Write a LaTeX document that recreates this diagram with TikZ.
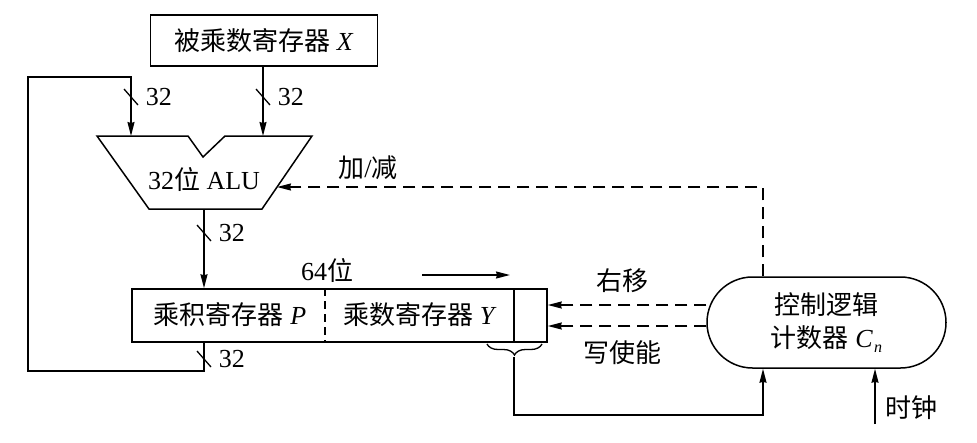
\documentclass[tikz,border=0pt]{standalone}
\usepackage{fontspec}
\setmainfont{Liberation Serif}
\newfontfamily\cjk{Noto Sans CJK SC}
\usepackage{tikz}
\usetikzlibrary{arrows.meta, positioning, shapes.misc, decorations.pathreplacing}
\newcommand{\zh}[1]{{\cjk #1}}
\tikzset{
	x=1pt, y=-1pt,
	>={Stealth[length=14pt, width=7pt, inset=1pt]},
	every node/.style={font=\fontsize{26}{33}\selectfont, inner sep=0pt},
	box/.style={draw, minimum height=51pt},
	sig/.style={dash pattern=on 12pt off 7pt},
	cut/.style={dash pattern=on 8pt off 5pt},
	ctl/.style={draw, rounded rectangle, align=center, minimum width=239pt, minimum height=91pt}}

\begin{document}
\begin{tikzpicture}[line width=1.5pt]
		\useasboundingbox (0,0) rectangle (977,442);

		% registers and control
		\node[box, minimum width=227pt] (X) at (264,40.5) {\zh{被乘数寄存器} \textit{X}};
		\node[box, minimum width=415pt, minimum height=53pt] (reg) at (339.5,315.5) {};
		\node (tP) at (230,315) {\zh{乘积寄存器} \textit{P}};
		\node (tY) at (420,315) {\zh{乘数寄存器} \textit{Y}};
		\node[ctl] (ctrl) at (826.5,322.5) {\zh{控制逻辑}\\\zh{计数器} \textit{C}\kern1pt\raisebox{-5pt}{\fontsize{16}{16}\selectfont\textit{n}}};

		% ALU
		\draw (97,136) -- (188,136) -- (203,157) -- (225,136) -- (312,136) -- (262,209) -- (149,209) -- cycle;
		\node (alu) at (204,179) {32\zh{位} ALU};
		\coordinate (inA) at (131,136);
		\coordinate (inB) at (263,136);
		\coordinate (aluR) at (277,187);
		\coordinate (aluOut) at (204,209);

		% dividers and brace
		\coordinate (dv) at (325,0);
		\coordinate (sb) at (514,0);
		\draw[cut] (reg.north -| dv) -- (reg.south -| dv);
		\draw (reg.north -| sb) -- (reg.south -| sb);
		\draw[line width=1.3pt, decorate, decoration={brace, mirror, amplitude=11pt}] (487,344) -- (542,344);
		\coordinate (brTip) at (514,357);

		% labels
		\node (lbl64) at (327,270) {64\zh{位}};
		\coordinate (mvA) at (422,275);
		\coordinate (mvB) at (510,275);
		\node (lblAS) at (368,168) {\zh{加}/\zh{减}};
		\node (lblR) at (622,281) {\zh{右移}};
		\node (lblW) at (622,353) {\zh{写使能}};
		\coordinate (clk) at (875,424);
		\node (lblClk) at (911,408) {\zh{时钟}};
		\coordinate (fbL) at (28,77);
		\coordinate (shR) at (0,305);
		\coordinate (shW) at (0,326);

		% bus widths
		\foreach \bx/\by/\nm in {131/97/wA, 263/97/wB, 204/233/wC, 204/359/wD}{
			\draw[line width=1.3pt] (\bx-7,\by-8) -- (\bx+7,\by+8);
			\node[anchor=west] (\nm) at (\bx+14,\by) {32};
		}

		\draw[->] (X.south -| inB) -- (inB);
		\draw[->] (aluOut) -- (reg.north -| aluOut);
		\draw[->] (reg.south -| aluOut) -- ++(0,28) -| (fbL) -| (inA);
		\draw[->] (mvA) -- (mvB);
		\draw[sig,->] ([xshift=-63.5pt]ctrl.north) |- (aluR);
		\draw[sig,->] (ctrl.west |- shR) -- (reg.east |- shR);
		\draw[sig,->] (ctrl.west |- shW) -- (reg.east |- shW);
		\draw[->] (brTip) -- ++(0,58) -| ([xshift=-63.5pt]ctrl.south);
		\draw[->] (clk) -- (ctrl.south -| clk);
	\end{tikzpicture}
\end{document}
